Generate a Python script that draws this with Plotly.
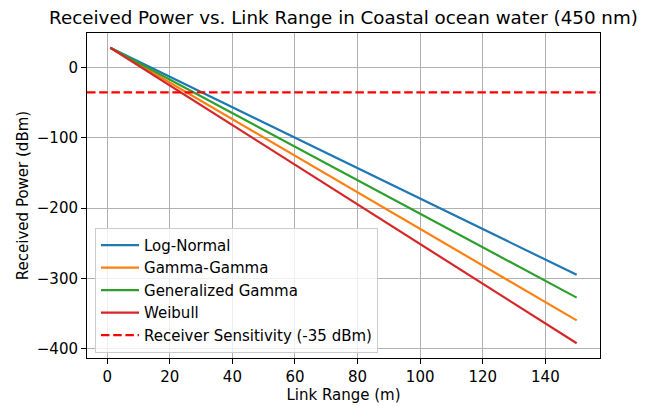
import plotly.graph_objects as go

link_range = [1, 150]
log_normal = [28.5, -295.0]
gamma_gamma = [28.5, -360.0]
generalized_gamma = [28.5, -327.5]
weibull = [28.5, -392.5]
sensitivity = -35

series_names = ["Log-Normal", "Gamma-Gamma", "Generalized Gamma", "Weibull"]
series_values = [log_normal, gamma_gamma, generalized_gamma, weibull]
colors = ["#1f77b4", "#ff7f0e", "#2ca02c", "#d62728"]

x_ticks = [0, 20, 40, 60, 80, 100, 120, 140]
y_ticks = [0, -100, -200, -300, -400]
y_tick_labels = ["0", "\u2212100", "\u2212200", "\u2212300", "\u2212400"]

# axis ranges with matplotlib-like 5% margins
xmin, xmax = min(link_range), max(link_range)
xpad = (xmax - xmin) * 0.05
allv = [v for s in series_values for v in s] + [sensitivity]
ymin, ymax = min(allv), max(allv)
ypad = (ymax - ymin) * 0.05
xr = [xmin - xpad, xmax + xpad]
yr = [ymin - ypad, ymax + ypad]

# page body has an 8px margin, so the figure is slightly smaller
W, H = 646, 398
FONT = "DejaVu Sans"
FS = 15
fig = go.Figure()
for name, vals, c in zip(series_names, series_values, colors):
    fig.add_trace(go.Scatter(x=link_range, y=vals, mode="lines", name=name,
                             line=dict(color=c, width=2.2)))
fig.add_trace(go.Scatter(x=xr, y=[sensitivity, sensitivity], mode="lines",
                         name="Receiver Sensitivity (-35 dBm)",
                         line=dict(color="red", width=2.2, dash="8.5px,3.7px")))

axis_common = dict(showline=True, linecolor="black", linewidth=1, mirror=True,
                   ticks="outside", ticklen=5, tickwidth=1, tickcolor="black",
                   showgrid=True, gridcolor="#b0b0b0", gridwidth=0.9,
                   zeroline=False, automargin=False,
                   tickfont=dict(size=FS, color="black", family=FONT))

fig.update_xaxes(range=xr, tickvals=x_ticks,
                 title=dict(text="Link Range (m)", font=dict(size=FS, color="black", family=FONT), standoff=4),
                 **axis_common)
fig.update_yaxes(range=yr, tickvals=y_ticks, ticktext=y_tick_labels,
                 title=dict(text="Received Power (dBm)", font=dict(size=FS, color="black", family=FONT), standoff=4),
                 **axis_common)

L, R, T, B = 79, 54, 25, 48
fig.update_layout(
    width=W, height=H,
    margin=dict(l=L, r=R, t=T, b=B, autoexpand=False),
    paper_bgcolor="white", plot_bgcolor="white",
    font=dict(family=FONT, color="black"),
    title=dict(text="Received Power vs. Link Range in Coastal ocean water (450 nm)",
               x=(L + (W - R)) / 2 / W, xanchor="center", y=1 - 10 / H, yanchor="middle",
               font=dict(size=18.3, color="black", family=FONT), automargin=False),
    legend=dict(x=0.0156, y=0.016, xanchor="left", yanchor="bottom",
                bgcolor="rgba(255,255,255,0.8)", bordercolor="#cccccc", borderwidth=1,
                font=dict(size=FS, color="black", family=FONT),
                itemwidth=38, tracegroupgap=0),
    showlegend=True,
)

fig.write_html("out.html")
